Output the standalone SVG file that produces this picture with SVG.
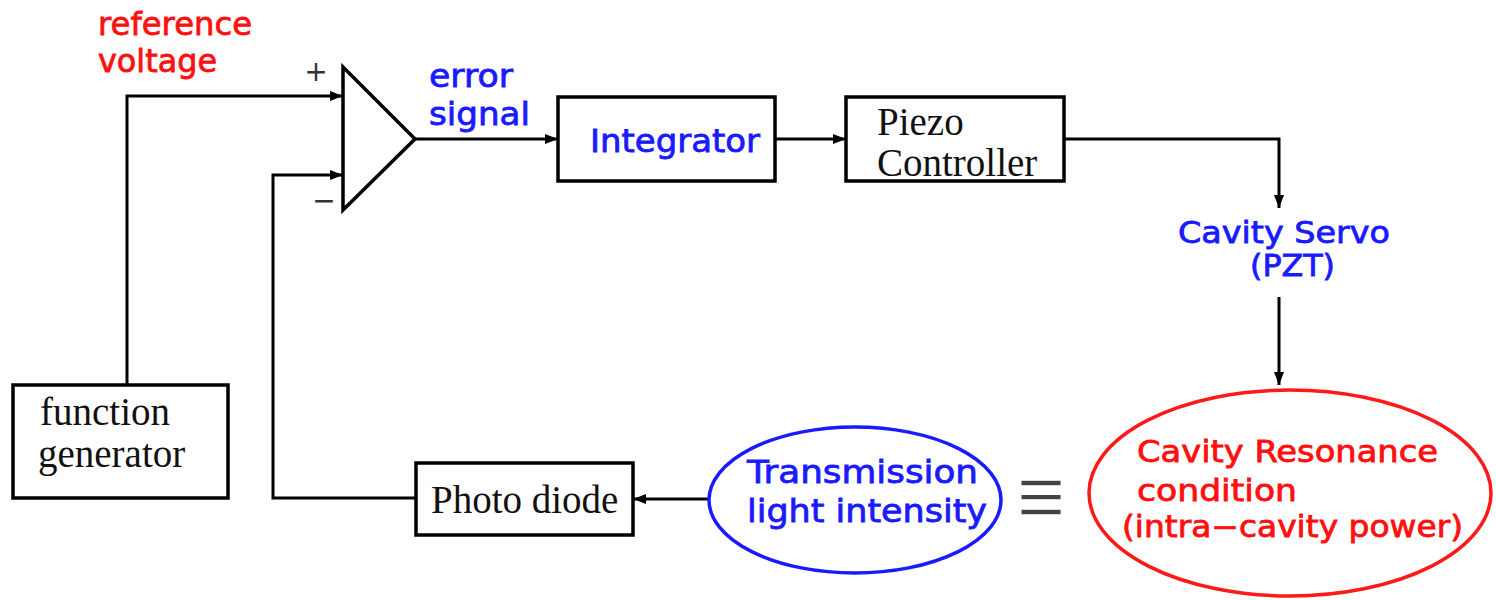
<svg xmlns="http://www.w3.org/2000/svg" width="1496" height="600" viewBox="0 0 1496 600">
<style>
.box{fill:#fff;stroke:#000;stroke-width:3.5}
.wire{fill:none;stroke:#000;stroke-width:3}
.serif{font-family:"Liberation Serif","Times New Roman",serif;font-size:39px;fill:#111}
.sans{font-family:"DejaVu Sans","Liberation Sans",sans-serif;font-size:32px;stroke-width:0.8}
.sm{font-size:30px}
.red{fill:#ff1010;stroke:#ff1010}
.blue{fill:#1a1aff;stroke:#1a1aff}
.sym{font-family:"DejaVu Sans",sans-serif;fill:#333}
.eq{font-family:"Liberation Sans","Arial",sans-serif;fill:#444;stroke:#fff;stroke-width:1.6}
</style>
<defs>
<marker id="arr" markerUnits="userSpaceOnUse" markerWidth="13" markerHeight="10" refX="13" refY="5" orient="auto">
<path d="M0,0 L13,5 L0,10 z" fill="#000"/>
</marker>
</defs>
<rect width="1496" height="600" fill="#fff"/>

<g id="connectors">
<path class="wire" d="M127,385 V96 H343" marker-end="url(#arr)"/>
<path class="wire" d="M416,498 H273 V175 H343" marker-end="url(#arr)"/>
<path class="wire" d="M415,139 H558" marker-end="url(#arr)"/>
<path class="wire" d="M775,139 H846" marker-end="url(#arr)"/>
<path class="wire" d="M1064,139 H1279 V208" marker-end="url(#arr)"/>
<path class="wire" d="M1279,297 V385" marker-end="url(#arr)"/>
<path class="wire" d="M709,499 H633" marker-end="url(#arr)"/>
</g>

<g id="ref-label">
<text class="sans red" x="98" y="35" textLength="154" lengthAdjust="spacingAndGlyphs">reference</text>
<text class="sans red" x="98" y="72" textLength="119" lengthAdjust="spacingAndGlyphs">voltage</text>
</g>

<g id="comparator">
<polygon points="343,67 343,210 415,139" fill="#fff" stroke="#000" stroke-width="3.5" stroke-linejoin="miter"/>
<text class="sym" x="316" y="81" font-size="28" text-anchor="middle">+</text>
<text class="sym" x="324" y="210" font-size="28" text-anchor="middle">−</text>
</g>

<g id="error-label">
<text class="sans blue" x="429" y="87" textLength="84" lengthAdjust="spacingAndGlyphs">error</text>
<text class="sans blue" x="429" y="125" textLength="101" lengthAdjust="spacingAndGlyphs">signal</text>
</g>

<g id="integrator">
<rect class="box" x="558" y="97" width="217" height="84"/>
<text class="sans blue" x="590" y="152" font-size="33" textLength="170" lengthAdjust="spacingAndGlyphs">Integrator</text>
</g>

<g id="piezo">
<rect class="box" x="846" y="97" width="218" height="84"/>
<text class="serif" x="877" y="135">Piezo</text>
<text class="serif" x="877" y="176">Controller</text>
</g>

<g id="servo-label">
<text class="sans sm blue" x="1178" y="243" textLength="212" lengthAdjust="spacingAndGlyphs">Cavity Servo</text>
<text class="sans sm blue" x="1250" y="276" textLength="85" lengthAdjust="spacingAndGlyphs">(PZT)</text>
</g>

<g id="resonance">
<ellipse cx="1290" cy="493" rx="201" ry="103" fill="none" stroke="#ff1a1a" stroke-width="3.5"/>
<text class="sans sm red" x="1137" y="462" textLength="301" lengthAdjust="spacingAndGlyphs">Cavity Resonance</text>
<text class="sans sm red" x="1137" y="501" textLength="160" lengthAdjust="spacingAndGlyphs">condition</text>
<text class="sans sm red" x="1122" y="537" textLength="341" lengthAdjust="spacingAndGlyphs">(intra−cavity power)</text>
</g>

<g id="equiv">
<text class="eq" x="1041" y="525" font-size="84" text-anchor="middle">≡</text>
</g>

<g id="transmission">
<ellipse cx="855" cy="500" rx="146" ry="73" fill="none" stroke="#1a1aff" stroke-width="3.5"/>
<text class="sans blue" x="747" y="483" textLength="231" lengthAdjust="spacingAndGlyphs">Transmission</text>
<text class="sans blue" x="747" y="522" textLength="240" lengthAdjust="spacingAndGlyphs">light intensity</text>
</g>

<g id="photodiode">
<rect class="box" x="416" y="463" width="217" height="72"/>
<text class="serif" x="431" y="513">Photo diode</text>
</g>

<g id="function-generator">
<rect class="box" x="13" y="385" width="215" height="113"/>
<text class="serif" x="40" y="425">function</text>
<text class="serif" x="38" y="467">generator</text>
</g>
</svg>
